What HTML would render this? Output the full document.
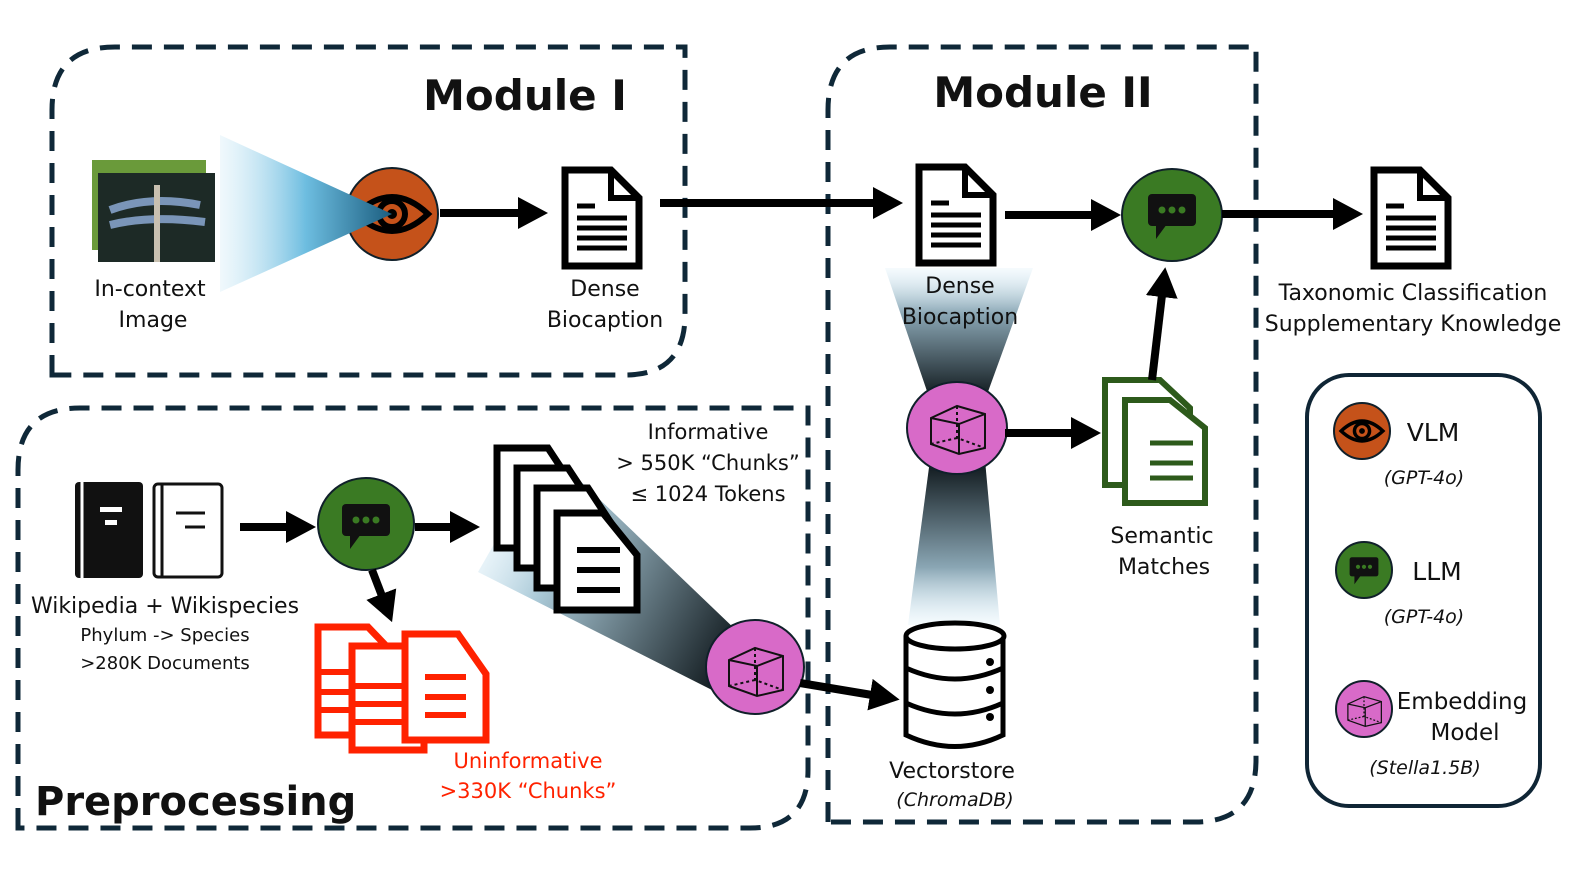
<!DOCTYPE html>
<html><head><meta charset="utf-8"><style>
html,body{margin:0;padding:0;background:#fff;}
svg{display:block;}
text{font-family:"DejaVu Sans","Liberation Sans",sans-serif;fill:#111;}
</style></head><body>
<svg width="1578" height="888" viewBox="0 0 1578 888" xmlns="http://www.w3.org/2000/svg">
<defs>
<linearGradient id="blue1" x1="0" y1="0" x2="1" y2="0">
<stop offset="0" stop-color="#cde9f6" stop-opacity="0.3"/><stop offset="0.5" stop-color="#6dbde0"/><stop offset="1" stop-color="#1b5e80"/></linearGradient>
<linearGradient id="cone1" x1="0" y1="0" x2="0" y2="1">
<stop offset="0" stop-color="#cfeaf7" stop-opacity="0.2"/><stop offset="0.35" stop-color="#8aa6b4"/><stop offset="1" stop-color="#0c1418"/></linearGradient>
<linearGradient id="cone2" x1="0" y1="1" x2="0" y2="0">
<stop offset="0" stop-color="#cfeaf7" stop-opacity="0.2"/><stop offset="0.35" stop-color="#8aa6b4"/><stop offset="1" stop-color="#0c1418"/></linearGradient>
<linearGradient id="cone3" x1="480" y1="520" x2="740" y2="660" gradientUnits="userSpaceOnUse">
<stop offset="0" stop-color="#cfeaf7" stop-opacity="0.2"/><stop offset="0.3" stop-color="#a9c8d6"/><stop offset="1" stop-color="#0c1418"/></linearGradient>
<marker id="ah" markerWidth="30" markerHeight="32" refX="2" refY="16" orient="auto" markerUnits="userSpaceOnUse"><path d="M0,0 L30,16 L0,32 Z" fill="#000"/></marker>
<g id="eye"><path d="M-36,0 Q0,-34 36,0 Q0,34 -36,0Z" fill="none" stroke="#000" stroke-width="6"/><circle r="13" fill="none" stroke="#000" stroke-width="6"/><circle r="5" fill="#000"/></g>
<g id="chat"><rect x="-24" y="-18" width="48" height="32" rx="4" fill="#111"/><path d="M-16,12 L-16,27 L-5,12Z" fill="#111"/><circle cx="-10" cy="-2" r="3.5" fill="#3a7a23"/><circle cx="0" cy="-2" r="3.5" fill="#3a7a23"/><circle cx="10" cy="-2" r="3.5" fill="#3a7a23"/></g>
<g id="cube" fill="none" stroke="#111" stroke-width="2"><path d="M-26,-8 L0,-20 L28,-12 L28,22 L2,28 L-26,18 Z M-26,-8 L2,-2 L28,-12 M2,-2 L2,28"/><path d="M0,-20 L0,12 L28,22 M0,12 L-26,18" stroke-dasharray="3,3"/></g>
<g id="doc"><path d="M0,0 H46 L74,28 V96 H0 Z" fill="#fff" stroke="#000" stroke-width="7"/><path d="M46,0 V28 H74" fill="none" stroke="#000" stroke-width="6"/><g stroke="#000" stroke-width="5"><line x1="12" y1="36" x2="30" y2="36"/><line x1="12" y1="48" x2="62" y2="48"/><line x1="12" y1="58" x2="62" y2="58"/><line x1="12" y1="68" x2="62" y2="68"/><line x1="12" y1="78" x2="62" y2="78"/></g></g>
</defs>

<g fill="none" stroke="#0f2838" stroke-width="5" stroke-dasharray="20,12">
<path d="M52,375 V110 Q52,47 115,47 H685 V315 Q685,375 625,375 Z"/>
<path d="M828,822 V110 Q828,47 890,47 H1256 V760 Q1256,822 1195,822 Z"/>
<path d="M18,828 V470 Q18,408 80,408 H808 V770 Q808,828 750,828 Z"/>
</g>

<text x="525" y="110" font-size="42" font-weight="bold" text-anchor="middle">Module I</text>
<text x="1043" y="107" font-size="42" font-weight="bold" text-anchor="middle">Module II</text>
<text x="35" y="815" font-size="40" font-weight="bold">Preprocessing</text>

<!-- Module I -->
<rect x="92" y="160" width="114" height="90" fill="#6a9a3a"/>
<rect x="98" y="173" width="117" height="89" fill="#1d2a26"/>
<path d="M110,210 Q150,195 200,205 M110,225 Q150,215 205,222" stroke="#7a95b8" stroke-width="8" fill="none"/>
<line x1="157" y1="185" x2="157" y2="262" stroke="#c8c0b0" stroke-width="6"/>
<circle cx="392" cy="214" r="46" fill="#c5521a" stroke="#10202a" stroke-width="2"/>
<use href="#eye" x="392" y="214"/>
<polygon points="220,135 392,214 220,292" fill="url(#blue1)"/>
<line x1="440" y1="213" x2="520" y2="213" stroke="#000" stroke-width="8" marker-end="url(#ah)"/>
<use href="#doc" x="565" y="170"/>
<text x="150" y="296" font-size="22" text-anchor="middle">In-context</text>
<text x="153" y="327" font-size="22" text-anchor="middle">Image</text>
<text x="605" y="296" font-size="22" text-anchor="middle">Dense</text>
<text x="605" y="327" font-size="22" text-anchor="middle">Biocaption</text>
<line x1="660" y1="203" x2="875" y2="203" stroke="#000" stroke-width="8" marker-end="url(#ah)"/>

<!-- Module II -->
<use href="#doc" x="919" y="167"/>
<polygon points="885,268 1033,268 985,400 930,400" fill="url(#cone1)"/>
<polygon points="930,460 985,460 1000,625 908,625" fill="url(#cone2)"/>
<text x="960" y="293" font-size="22" text-anchor="middle">Dense</text>
<text x="960" y="324" font-size="22" text-anchor="middle">Biocaption</text>
<line x1="1005" y1="215" x2="1093" y2="215" stroke="#000" stroke-width="8" marker-end="url(#ah)"/>
<ellipse cx="1172" cy="215" rx="50" ry="46" fill="#3a7a23" stroke="#10202a" stroke-width="2"/>
<use href="#chat" x="1172" y="212"/>
<line x1="1222" y1="214" x2="1335" y2="214" stroke="#000" stroke-width="8" marker-end="url(#ah)"/>
<use href="#doc" x="1374" y="170"/>
<text x="1413" y="300" font-size="22" text-anchor="middle">Taxonomic Classification</text>
<text x="1413" y="331" font-size="22" text-anchor="middle">Supplementary Knowledge</text>
<ellipse cx="957" cy="428" rx="50" ry="46" fill="#d86ac8" stroke="#10202a" stroke-width="2"/>
<use href="#cube" x="957" y="426"/>
<line x1="1005" y1="433" x2="1073" y2="433" stroke="#000" stroke-width="8" marker-end="url(#ah)"/>
<path d="M1105,380 H1160 L1190,408 V485 H1105 Z" fill="#fff" stroke="#2d5a1b" stroke-width="6"/>
<path d="M1125,400 H1170 L1205,428 V503 H1125 Z" fill="#fff" stroke="#2d5a1b" stroke-width="6"/>
<g stroke="#2d5a1b" stroke-width="5"><line x1="1150" y1="443" x2="1193" y2="443"/><line x1="1150" y1="463" x2="1193" y2="463"/><line x1="1150" y1="478" x2="1193" y2="478"/></g>
<line x1="1152" y1="380" x2="1162" y2="295" stroke="#000" stroke-width="8" marker-end="url(#ah)"/>
<text x="1162" y="543" font-size="22" text-anchor="middle">Semantic</text>
<text x="1164" y="574" font-size="22" text-anchor="middle">Matches</text>
<g fill="#fff" stroke="#000" stroke-width="5">
<path d="M906,636 V735 Q955,758 1003,735 V636"/>
<ellipse cx="955" cy="636" rx="49" ry="13"/>
<path d="M906,668 Q955,690 1003,668 M906,703 Q955,725 1003,703" fill="none"/>
</g>
<circle cx="990" cy="662" r="4" fill="#000"/><circle cx="990" cy="690" r="4" fill="#000"/><circle cx="990" cy="717" r="4" fill="#000"/>
<text x="952" y="778" font-size="22" text-anchor="middle">Vectorstore</text>
<text x="955" y="806" font-size="19" font-style="italic" text-anchor="middle">(ChromaDB)</text>

<!-- Preprocessing -->
<rect x="75" y="482" width="68" height="96" rx="4" fill="#111"/>
<line x1="82" y1="482" x2="82" y2="578" stroke="#fff" stroke-width="3"/>
<rect x="100" y="507" width="22" height="5" fill="#fff"/><rect x="105" y="520" width="12" height="5" fill="#fff"/>
<rect x="154" y="484" width="68" height="93" rx="4" fill="#fff" stroke="#111" stroke-width="3"/>
<line x1="162" y1="484" x2="162" y2="577" stroke="#111" stroke-width="3"/>
<line x1="176" y1="513" x2="205" y2="513" stroke="#111" stroke-width="3"/><line x1="185" y1="527" x2="205" y2="527" stroke="#111" stroke-width="3"/>
<line x1="240" y1="527" x2="288" y2="527" stroke="#000" stroke-width="8" marker-end="url(#ah)"/>
<ellipse cx="366" cy="524" rx="48" ry="46" fill="#3a7a23" stroke="#10202a" stroke-width="2"/>
<use href="#chat" x="366" y="522"/>
<line x1="415" y1="527" x2="452" y2="527" stroke="#000" stroke-width="8" marker-end="url(#ah)"/>
<line x1="372" y1="570" x2="382" y2="596" stroke="#000" stroke-width="8" marker-end="url(#ah)"/>
<polygon points="478,572 548,450 738,632 712,690" fill="url(#cone3)"/>
<g fill="#fff" stroke="#000" stroke-width="7">
<path d="M497,448 H548 L577,492 V548 H497 Z"/>
<path d="M517,468 H568 L597,512 V568 H517 Z"/>
<path d="M537,488 H588 L617,532 V588 H537 Z"/>
<path d="M557,513 H603 L637,555 V610 H557 Z"/>
</g>
<g stroke="#000" stroke-width="6"><line x1="577" y1="550" x2="620" y2="550"/><line x1="577" y1="570" x2="620" y2="570"/><line x1="577" y1="590" x2="620" y2="590"/></g>
<ellipse cx="755" cy="667" rx="49" ry="47" fill="#d86ac8" stroke="#10202a" stroke-width="2"/>
<use href="#cube" x="755" y="668"/>
<line x1="800" y1="683" x2="872" y2="695" stroke="#000" stroke-width="8" marker-end="url(#ah)"/>
<g fill="#fff" stroke="#f20" stroke-width="7">
<path d="M318,627 H368 L392,652 V735 H318 Z"/>
<path d="M352,646 H404 L424,666 V750 H352 Z"/>
<path d="M405,634 H458 L486,674 V740 H405 Z"/>
</g>
<g stroke="#f20" stroke-width="6"><line x1="425" y1="677" x2="466" y2="677"/><line x1="425" y1="697" x2="466" y2="697"/><line x1="425" y1="715" x2="466" y2="715"/>
<line x1="320" y1="672" x2="352" y2="672"/><line x1="320" y1="692" x2="352" y2="692"/><line x1="320" y1="710" x2="352" y2="710"/>
<line x1="355" y1="686" x2="405" y2="686"/><line x1="355" y1="704" x2="405" y2="704"/><line x1="355" y1="722" x2="405" y2="722"/></g>
<text x="165" y="613" font-size="22" text-anchor="middle">Wikipedia + Wikispecies</text>
<text x="165" y="641" font-size="18" text-anchor="middle">Phylum -&gt; Species</text>
<text x="165" y="669" font-size="18" text-anchor="middle">&gt;280K Documents</text>
<text x="708" y="439" font-size="21" text-anchor="middle">Informative</text>
<text x="708" y="470" font-size="21" text-anchor="middle">&gt; 550K “Chunks”</text>
<text x="708" y="501" font-size="21" text-anchor="middle">≤ 1024 Tokens</text>
<text x="528" y="768" font-size="21" text-anchor="middle" style="fill:#f20">Uninformative</text>
<text x="528" y="798" font-size="21" text-anchor="middle" style="fill:#f20">&gt;330K “Chunks”</text>

<!-- Legend -->
<rect x="1307" y="375" width="233" height="431" rx="42" fill="#fff" stroke="#0f2535" stroke-width="4"/>
<circle cx="1362" cy="431" r="28" fill="#c5521a" stroke="#10202a" stroke-width="2"/>
<g transform="translate(1362,431) scale(0.58)"><use href="#eye"/></g>
<text x="1433" y="441" font-size="25" text-anchor="middle">VLM</text>
<text x="1424" y="484" font-size="19" font-style="italic" text-anchor="middle">(GPT-4o)</text>
<circle cx="1364" cy="570" r="28" fill="#3a7a23" stroke="#10202a" stroke-width="2"/>
<g transform="translate(1364,568) scale(0.6)"><use href="#chat"/></g>
<text x="1437" y="580" font-size="25" text-anchor="middle">LLM</text>
<text x="1424" y="623" font-size="19" font-style="italic" text-anchor="middle">(GPT-4o)</text>
<circle cx="1364" cy="709" r="28" fill="#d86ac8" stroke="#10202a" stroke-width="2"/>
<g transform="translate(1364,709) scale(0.62)"><use href="#cube"/></g>
<text x="1462" y="709" font-size="23" text-anchor="middle">Embedding</text>
<text x="1465" y="740" font-size="23" text-anchor="middle">Model</text>
<text x="1425" y="774" font-size="19" font-style="italic" text-anchor="middle">(Stella1.5B)</text>
</svg>
</body></html>
